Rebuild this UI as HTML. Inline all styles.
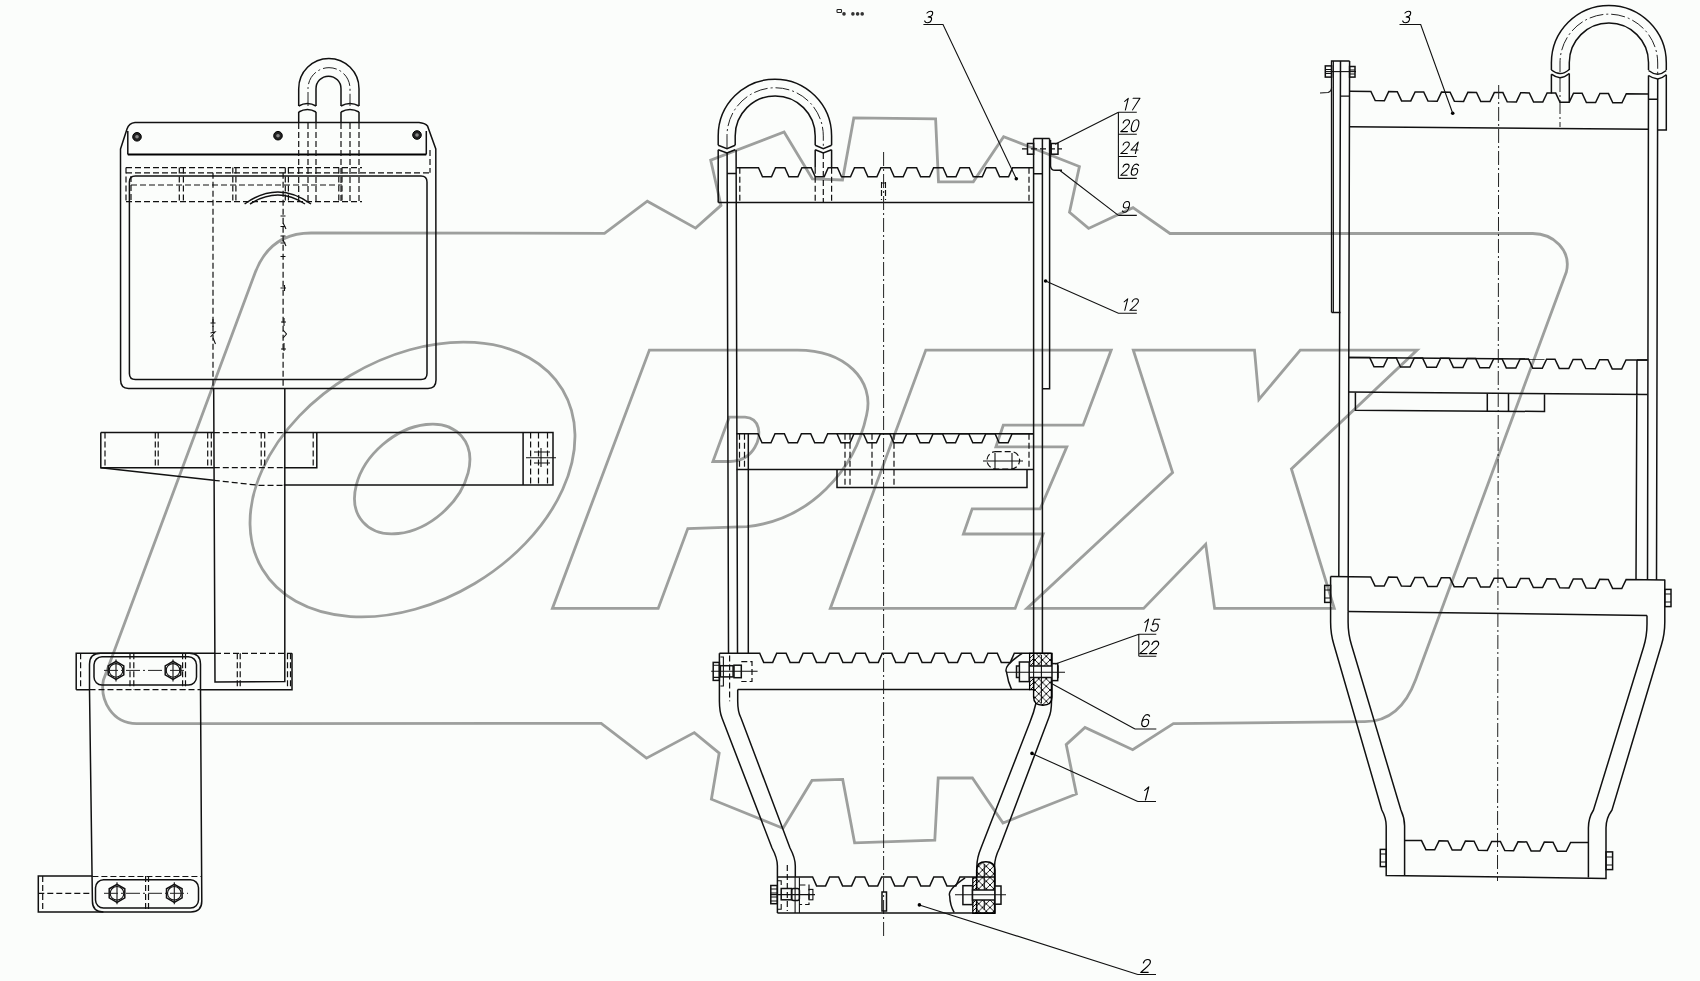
<!DOCTYPE html>
<html><head><meta charset="utf-8"><style>
html,body{margin:0;padding:0;background:#fbfdfb;width:1700px;height:981px;overflow:hidden}
svg{display:block}
.k{fill:none;stroke:#111;stroke-width:1.5}
.kf{fill:#fbfdfb;stroke:#111;stroke-width:1.5}
.t{fill:none;stroke:#111;stroke-width:1.1}
.g{fill:none;stroke:#000;stroke-width:0.95;stroke-linecap:round;stroke-linejoin:round}
.d{fill:none;stroke:#111;stroke-width:1.2;stroke-dasharray:6 3}
.c{fill:none;stroke:#222;stroke-width:1;stroke-dasharray:14 3 2 3}
.w{fill:none;stroke:#9d9f9d;stroke-width:2.8;stroke-linejoin:miter}
text{font-family:"Liberation Sans",sans-serif;font-style:italic;fill:#000}
</style></head><body>
<svg width="1700" height="981" viewBox="0 0 1700 981">
<defs><pattern id="hatch" width="7.5" height="7.5" patternUnits="userSpaceOnUse"><path d="M0,0L7.5,7.5M7.5,0L0,7.5" stroke="#000" stroke-width="0.9"/></pattern><pattern id="hatch1" width="4" height="4" patternUnits="userSpaceOnUse"><path d="M0,4L4,0" stroke="#000" stroke-width="0.9"/></pattern></defs>
<rect width="1700" height="981" fill="#fbfdfb"/>
<path class="w" d="M311,233 L604.5,233.3 L647.3,201.2 L695.6,228.1 L721,205.4 L710.7,160.2 L784.1,132 L812.4,179 L842.5,180 L853.8,117.9 L935.6,118.8 L938.5,181.9 L973.3,181.9 L1003.6,136.7 L1079.4,166.5 L1069.5,212.3 L1088.6,228.4 L1133,207.7 L1170,233.5 L1532.7,233.5 C1553,233.5 1571.5,250 1566.4,271.8 L1415.7,679.5 Q1400,722 1364.3,721.7 L1173.4,723.6 L1132.7,749.7 L1085,727.5 L1066.2,744.6 L1076.4,794 L1003,823 L972.4,778 L938.2,778 L934.8,840.1 L854.6,842.8 L842.7,779.4 L812,780.4 L783,828.2 L711.4,799.2 L719.2,753.1 L694.3,732.6 L646.5,758.2 L601.2,723.4 L136.6,723.6 C112,723.6 99.7,700 103.4,680 L255,273 Q270,233 311,233 Z"/>
<ellipse class="w" cx="412.5" cy="479.5" rx="174.9" ry="121.2" transform="rotate(-30.9 412.5 479.5)"/>
<ellipse class="w" cx="412.2" cy="479" rx="65.4" ry="45.3" transform="rotate(-41 412.2 479)"/>
<path class="w" d="M649.4,350.1 L797.2,350.1 C845,350 875,380 866.6,415 C855,470 810,520 747,526.6 L687.8,528.6 L658.2,608.4 L552.4,608.4 Z"/>
<path class="w" d="M729.2,417.2 L745,417.2 C760,418 762,435 755,447 C750,456 742,461 730,461.5 L712.9,461.5 Z"/>
<path class="w" d="M925.8,350.1 L1111.2,350.1 L1083.1,425.2 L1003.3,425.2 L995.9,446.8 L1066.8,446.8 L1040.2,508.8 L972.2,508.8 L963.4,534 L1043.2,534 L1015.1,608.4 L830.3,608.4 Z"/>
<path class="w" d="M1133.3,350.1 L1254.5,350.1 L1258.9,399.5 L1300.3,350.1 L1417.1,350.1 L1291.4,468.9 L1334.3,608.4 L1214.6,608.4 L1205.7,544.3 L1143.6,608.4 L1026.9,608.4 L1172.6,472.5 Z"/>
<path class="k" d="M120.5,149 L127,129 Q129,123 135,122.5 L419,122.5 Q425,123 427.5,126 L435.8,149 L436,380 Q436,388.4 428,388.4 L128.5,388.4 Q120.6,388.4 120.6,380 Z"/>
<path class="k" d="M127.8,154.5 L127.8,131 M426.3,154.5 L426.3,131"/>
<path d="M127.8,154.5 L426.3,154.5" stroke="#000" stroke-width="2.2"/>
<path class="k" d="M135.4,176 L421,176 Q427,176 427,182 L427,373.5 Q427,379.5 421,379.5 L135.4,379.5 Q129.4,379.5 129.4,373.5 L129.4,182 Q129.4,176 135.4,176 Z"/>
<circle cx="137" cy="136.8" r="4.3" fill="#222" stroke="#000" stroke-width="1"/>
<circle cx="137" cy="136.8" r="1.8" fill="#888"/>
<circle cx="278" cy="135.7" r="4.3" fill="#222" stroke="#000" stroke-width="1"/>
<circle cx="278" cy="135.7" r="1.8" fill="#888"/>
<circle cx="417" cy="135" r="4.3" fill="#222" stroke="#000" stroke-width="1"/>
<circle cx="417" cy="135" r="1.8" fill="#888"/>
<path class="d" d="M126,167.6 L362,167.6"/>
<path class="d" d="M126,172.8 L430,172.8"/>
<path class="d" d="M430,150 L430,172.8"/>
<path class="d" d="M131,185 L342,185"/>
<path class="d" d="M126,201.6 L362,201.6"/>
<path class="d" d="M126,167.6 L126,201.6"/>
<path class="d" d="M131,176 L131,201.6"/>
<path class="d" d="M179.3,167.6 L179.3,201.6"/>
<path class="d" d="M183.4,167.6 L183.4,201.6"/>
<path class="d" d="M232.8,167.6 L232.8,201.6"/>
<path class="d" d="M235.9,167.6 L235.9,201.6"/>
<path class="d" d="M285.3,167.6 L285.3,201.6"/>
<path class="d" d="M288.4,167.6 L288.4,201.6"/>
<path class="d" d="M338.8,167.6 L338.8,201.6"/>
<path class="d" d="M342,167.6 L342,201.6"/>
<path class="k" d="M298.7,106 L298.7,88.65 A30.15,30.15 0 0 1 359,88.65 L359,106"/>
<path class="k" d="M316,106 L316,88.65 A12.5,12.5 0 0 1 341,88.65 L341,106"/>
<path class="c" d="M308,106 L308,88.65 A21,21 0 0 1 350,88.65 L350,106"/>
<path class="k" d="M298.7,106 Q307.5,101 316,106 M341,106 Q350,101 359,106"/>
<path class="k" d="M298.7,112 Q307.5,107 316,112 M341,112 Q350,107 359,112"/>
<path class="k" d="M298.7,112 L298.7,122.5 M316,112 L316,122.5 M341,112 L341,122.5 M359,112 L359,122.5"/>
<path class="d" d="M298.7,123 L298.7,201.6"/>
<path class="d" d="M316,123 L316,201.6"/>
<path class="d" d="M341,123 L341,201.6"/>
<path class="d" d="M359,123 L359,201.6"/>
<path class="d" d="M308,123 L308,201.6"/>
<path class="d" d="M350,123 L350,201.6"/>
<path class="k" d="M244.6,204 Q278,180 311,204"/>
<path class="k" d="M250,204 Q278,186 305,204"/>
<path class="d" d="M213,172.8 L213,388.4"/>
<path class="d" d="M283.1,172.8 L283.1,388.4"/>
<path class="t" d="M280.5,216 L285.5,216 M280.5,226.5 L285.5,226.5 M283.1,223 L286,229 M280.5,236 L285.5,236 M283.1,240 L286,246 M280.5,243 L285.5,243 M280.5,256.5 L285.5,256.5 M280.5,288 L286,288 M284.5,285 L284.5,291 M281,322 L286,322 M284,318 L284,326 M283.1,330 L286.5,334 L283.1,338 M281,349 L286,349 M284,343 L284,351"/>
<path class="t" d="M210.5,323 L215.5,323 M213,319 L213,327 M210.5,337 L215,332 L210.5,333 M213,338 L215.5,344"/>
<path class="k" d="M213.7,388.4 L215,682 L284.8,681.4 L284.8,388.4"/>
<path class="k" d="M100.8,432.6 L213.8,432.6 M283.8,432.6 L553,432.6 L553,485 L283.8,485"/>
<path class="d" d="M213.8,432.6 L283.8,432.6"/>
<path class="k" d="M100.8,432.6 L100.8,467.7 L213.8,467.7 M283.8,467.7 L316.8,467.7 L316.8,432.6"/>
<path class="d" d="M213.8,467.7 L283.8,467.7"/>
<path class="k" d="M100.8,467.7 L213.8,480.3"/>
<path class="d" d="M213.8,480.3 L258.6,485.3 L283.8,485.3"/>
<path class="k" d="M523.1,432.6 L523.1,485"/>
<path class="d" d="M105,432.6 L105,467.7"/>
<path class="d" d="M155.3,432.6 L155.3,467.7"/>
<path class="d" d="M158.2,432.6 L158.2,467.7"/>
<path class="d" d="M207.7,432.6 L207.7,467.7"/>
<path class="d" d="M211.3,432.6 L211.3,467.7"/>
<path class="d" d="M261.2,432.6 L261.2,467.7"/>
<path class="d" d="M264.7,432.6 L264.7,467.7"/>
<path class="d" d="M313.2,432.6 L313.2,467.7"/>
<path class="d" d="M530.6,432.6 L530.6,485"/>
<path class="d" d="M538.5,432.6 L538.5,485"/>
<path class="d" d="M547.5,432.6 L547.5,485"/>
<path class="t" d="M526,457.7 L556,457.7 M541,448 L541,467 M534,452 L550,452 M534,463 L550,463"/>
<path class="k" d="M76.2,689.7 L76.2,653.3 L215,653.3 M76.2,689.7 L89.5,689.7 M200.5,689.7 L292,689.7 L292,653.3"/>
<path class="d" d="M215,653.3 L292,653.3"/>
<path class="d" d="M89.5,689.7 L200.5,689.7"/>
<rect class="k" x="94" y="656.8" width="102.5" height="28.2" rx="8"/>
<path class="d" d="M80.6,653.3 L80.6,689.7"/>
<path class="d" d="M130,653.3 L130,689.7"/>
<path class="d" d="M133.8,653.3 L133.8,689.7"/>
<path class="d" d="M182.6,653.3 L182.6,689.7"/>
<path class="d" d="M185.5,653.3 L185.5,689.7"/>
<path class="d" d="M237.3,653.3 L237.3,689.7"/>
<path class="d" d="M240.2,653.3 L240.2,689.7"/>
<path class="d" d="M287.5,653.3 L287.5,689.7"/>
<path class="d" d="M290.5,653.3 L290.5,689.7"/>
<polygon class="k" points="123.8,674.9 116.0,679.4 108.2,674.9 108.2,665.9 116.0,661.4 123.8,665.9"/>
<circle class="t" cx="116" cy="670.4" r="6.8"/>
<path class="t" d="M116,659.4L116,681.4"/>
<polygon class="k" points="180.8,674.9 173.0,679.4 165.2,674.9 165.2,665.9 173.0,661.4 180.8,665.9"/>
<circle class="t" cx="173" cy="670.4" r="6.8"/>
<path class="t" d="M173,659.4L173,681.4"/>
<path class="c" d="M104,670.4 L185,670.4"/>
<path class="k" d="M89.5,689.7 L89.5,664.3 Q89.5,653.3 100.5,653.3 L189.5,653.3 Q200.5,653.3 200.5,664.3 L200.5,689.7"/>
<path class="k" d="M89.5,689.7 L92.4,901 Q92.4,912 103.4,912 L190.8,912 Q201.8,912 201.8,901 L200.5,689.7"/>
<path class="k" d="M92.4,876 L38.3,876 L38.3,912 L103.4,912"/>
<path class="d" d="M92.4,876.5 L201.8,876.5"/>
<rect class="k" x="95.5" y="879.8" width="103" height="28.2" rx="8"/>
<path class="d" d="M38.3,893.3 L92.4,893.3"/>
<path class="d" d="M42.7,876 L42.7,912"/>
<path class="d" d="M145.6,876 L145.6,912"/>
<path class="d" d="M148.5,876 L148.5,912"/>
<polygon class="k" points="124.8,897.8 117.0,902.3 109.2,897.8 109.2,888.8 117.0,884.3 124.8,888.8"/>
<circle class="t" cx="117" cy="893.3" r="6.8"/>
<path class="t" d="M117,882.3L117,904.3"/>
<polygon class="k" points="182.1,897.8 174.3,902.3 166.5,897.8 166.5,888.8 174.3,884.3 182.1,888.8"/>
<circle class="t" cx="174.3" cy="893.3" r="6.8"/>
<path class="t" d="M174.3,882.3L174.3,904.3"/>
<path class="c" d="M104,893.3 L188,893.3"/>
<path class="k" d="M718.2,145.2 L718.2,135.9 A56.7,56.7 0 0 1 831.6,135.9 L831.6,145.2"/>
<path class="k" d="M735.2,145.2 L735.2,135.9 A40,40 0 0 1 815.2,135.9 L815.2,145.2"/>
<path class="c" d="M727,148 L727,135.9 A48,48 0 0 1 823.3,135.9 L823.3,148"/>
<path class="k" d="M718.2,145.2 L727,148.6 L735.2,145.2 M815.2,145.2 L823.3,148.6 L831.6,145.2"/>
<path class="k" d="M718.2,149.8 L727,153 L735.2,149.8 M815.2,149.8 L823.3,153 L831.6,149.8"/>
<path class="k" d="M718.2,149.8 L718.2,202.6 M815.2,149.8 L815.2,167.8 M831.6,149.8 L831.6,167.8"/>
<path class="d" d="M815.2,167.8 L815.2,202.6"/>
<path class="d" d="M831.6,167.8 L831.6,202.6"/>
<path class="d" d="M823.3,153 L823.3,202.6"/>
<path class="k" d="M727.1,153 L728.5,653.2 M736.1,150 L737.5,653.2 M727.1,173.4 L736.1,173.4"/>
<path class="k" d="M748.3,433.7 L748.3,653.2"/>
<path class="k" d="M1033.6,138.6 L1033.6,653.2 M1042.4,138.6 L1042.4,653.2 M1049.6,138.6 L1049.6,388.7 L1042.4,388.7 M1033.6,138.6 L1049.6,138.6 M1033.6,173.8 L1042.4,173.8"/>
<path class="k" d="M736.1,167.8 L758.5,167.8 L762.5,176.8 L771.5,176.8 L775.5,167.8 L784.9,167.8 L788.9,176.8 L797.9,176.8 L801.9,167.8 L811.2,167.8 L815.2,176.8 L824.2,176.8 L828.2,167.8 L837.5,167.8 L841.5,176.8 L850.5,176.8 L854.5,167.8 L863.9,167.8 L867.9,176.8 L876.9,176.8 L880.9,167.8 L890.2,167.8 L894.2,176.8 L903.2,176.8 L907.2,167.8 L916.6,167.8 L920.6,176.8 L929.6,176.8 L933.6,167.8 L943.0,167.8 L947.0,176.8 L956.0,176.8 L960.0,167.8 L969.3,167.8 L973.3,176.8 L982.3,176.8 L986.3,167.8 L995.6,167.8 L999.6,176.8 L1008.6,176.8 L1012.6,167.8 L1033.6,167.8"/>
<path class="k" d="M718.2,202.6 L1033.6,202.6"/>
<path class="d" d="M739.8,167.8 L739.8,202.6"/>
<path class="d" d="M1029,167.8 L1029,202.6"/>
<path class="c" d="M883.6,152 L883.6,938"/>
<path class="t" d="M881.5,182 L881.5,188 M885.5,182 L885.5,188 M881.5,183 L885.5,183"/>
<path class="d" d="M881.5,190 L881.5,200"/>
<path class="d" d="M885.5,190 L885.5,200"/>
<rect class="k" x="1027.5" y="143.5" width="6.1" height="10.7" rx="0"/>
<rect class="k" x="1051.2" y="143.5" width="6.8" height="10.7" rx="0"/>
<path class="d" d="M1022,148.9 L1062,148.9"/>
<path class="k" d="M1050.5,140 L1050.5,166 Q1051,170.3 1055,170.3 L1062,170.3"/>
<path class="k" d="M736.5,433.7 L758.0,433.7 L762.0,442.8 L771.0,442.8 L775.0,433.7 L784.4,433.7 L788.4,442.8 L797.4,442.8 L801.4,433.7 L810.7,433.7 L814.7,442.8 L823.7,442.8 L827.7,433.7 L837.0,433.7 L841.0,442.8 L850.0,442.8 L854.0,433.7 L863.4,433.7 L867.4,442.8 L876.4,442.8 L880.4,433.7 L889.8,433.7 L893.8,442.8 L902.8,442.8 L906.8,433.7 L916.1,433.7 L920.1,442.8 L929.1,442.8 L933.1,433.7 L942.5,433.7 L946.5,442.8 L955.5,442.8 L959.5,433.7 L968.8,433.7 L972.8,442.8 L981.8,442.8 L985.8,433.7 L995.1,433.7 L999.1,442.8 L1008.1,442.8 L1012.1,433.7 L1033.3,433.7"/>
<path class="k" d="M836.5,433.7 L1033.3,433.7"/>
<path class="k" d="M736.5,469.6 L1033.3,469.6 M837,469.6 L837,487.5 L1027,487.5 L1027,469.6"/>
<path class="d" d="M739.5,433.7 L739.5,469.6"/>
<path class="d" d="M744.5,433.7 L744.5,469.6"/>
<path class="d" d="M1029,433.7 L1029,469.6"/>
<path class="d" d="M845,433.7 L845,487.5"/>
<path class="d" d="M850,433.7 L850,487.5"/>
<path class="d" d="M872,433.7 L872,487.5"/>
<path class="d" d="M894,433.7 L894,487.5"/>
<rect class="d" x="987" y="451.6" width="32.6" height="17.4" rx="8.7"/>
<path class="t" d="M983,461 L1023,461 M995,453 L995,469 M1012,453 L1012,469"/>
<path class="k" d="M719.4,653.2 L759.7,653.2 L763.7,662.4 L772.7,662.4 L776.7,653.2 L786.1,653.2 L790.1,662.4 L799.1,662.4 L803.1,653.2 L812.5,653.2 L816.5,662.4 L825.5,662.4 L829.5,653.2 L838.9,653.2 L842.9,662.4 L851.9,662.4 L855.9,653.2 L865.3,653.2 L869.3,662.4 L878.3,662.4 L882.3,653.2 L891.7,653.2 L895.7,662.4 L904.7,662.4 L908.7,653.2 L918.1,653.2 L922.1,662.4 L931.1,662.4 L935.1,653.2 L944.5,653.2 L948.5,662.4 L957.5,662.4 L961.5,653.2 L970.9,653.2 L974.9,662.4 L983.9,662.4 L987.9,653.2 L997.3,653.2 L1001.3,662.4 L1010.3,662.4 L1014.3,653.2 L1051.5,653.2"/>
<path class="k" d="M737.7,689.6 L1030.4,689.6"/>
<path class="k" d="M719.4,653.2 L719.4,701 Q719.5,712 722,718 L772,848 Q777.4,858 777.4,866 L777.4,913.1"/>
<path class="k" d="M737.7,689.6 L737.7,701 Q737.7,712 741,718 L790,848 Q795.3,858 795.3,866 L795.3,877"/>
<path class="k" d="M1051.5,653.2 L1051.5,701 Q1051.5,712 1048.7,718 L999.5,848 Q994.6,858 994.6,866 L994.6,913.1"/>
<path class="k" d="M1036,703 Q1034,712 1030,722 L981,848 Q976.9,858 976.9,866 L976.9,877"/>
<rect class="k" x="713.2" y="662.4" width="6.2" height="18.0" rx="0"/>
<path class="t" d="M713.2,665.2 L719.4,665.2 M713.2,677.4 L719.4,677.4"/>
<rect class="k" x="720.4" y="665.7" width="12.7" height="11.2" rx="0"/>
<rect class="k" x="734.0" y="665.2" width="7.3" height="12.5" rx="0"/>
<path class="d" d="M741.3,661.6 L752,661.6 L752,681.5 L741.3,681.5"/>
<path class="t" d="M720.4,657 L723.4,657 L723.4,686 L720.4,686"/>
<path class="t" d="M711.2,671.3 L757.6,671.3"/>
<path class="d" d="M729.6,655.5 L729.6,701.3"/>
<path d="M1033.6,653.4 L1052,653.4 L1052,697 Q1052,705.2 1042.8,705.2 Q1033.6,705.2 1033.6,697 Z" fill="url(#hatch)" stroke="#000" stroke-width="1.4"/>
<path d="M1029.6,653.4 L1033.6,653.4 L1033.6,689.7 L1029.6,689.7 Z" fill="url(#hatch1)" stroke="#000" stroke-width="1.3"/>
<path class="t" d="M1041.4,655 L1041.4,703"/>
<rect class="kf" x="1016.5" y="666.0" width="41.5" height="11.5" rx="0"/>
<rect class="kf" x="1019.4" y="662.0" width="9.8" height="19.6" rx="0"/>
<rect class="kf" x="1052.0" y="663.6" width="5.7" height="17.0" rx="0"/>
<path class="t" d="M1033.6,666 L1033.6,677.5 M1041.4,666 L1041.4,677.5"/>
<path class="t" d="M1006,672.2 L1065,672.2"/>
<path class="k" d="M1022.2,653.4 Q1003,666 1006.5,672.2 Q1008,682 1011.6,689.6"/>
<path class="k" d="M777.4,877.0 L812.6,877.0 L816.6,885.9 L825.6,885.9 L829.6,877.0 L838.6,877.0 L842.6,885.9 L851.6,885.9 L855.6,877.0 L864.7,877.0 L868.7,885.9 L877.7,885.9 L881.7,877.0 L890.8,877.0 L894.8,885.9 L903.8,885.9 L907.8,877.0 L916.8,877.0 L920.8,885.9 L929.8,885.9 L933.8,877.0 L942.9,877.0 L946.9,885.9 L955.9,885.9 L959.9,877.0 L994.6,877.0"/>
<path class="k" d="M777.4,913.1 L994.6,913.1"/>
<path d="M976.6,913.3 L976.6,870 Q976.6,861.8 985.8,861.8 Q995,861.8 995,870 L995,913.3 Z" fill="url(#hatch)" stroke="#000" stroke-width="1.4"/>
<path d="M972.8,877.8 L976.6,877.8 L976.6,913.3 L972.8,913.3 Z" fill="url(#hatch1)" stroke="#000" stroke-width="1.3"/>
<path class="t" d="M984.3,864 L984.3,910"/>
<path class="k" d="M965.1,877.8 Q947,890 949.7,896.2 Q950,905 954.1,912.4"/>
<rect class="k" x="770.8" y="885.5" width="6.5" height="18.2" rx="0"/>
<path class="t" d="M770.8,889 L777.3,889 M770.8,893 L777.3,893 M770.8,897 L777.3,897 M770.8,901 L777.3,901"/>
<path class="t" d="M777.5,880.7 L781.2,880.7 L781.2,885 M781.2,904 L781.2,909.3 L777.5,909.3"/>
<rect class="k" x="781.2" y="888.5" width="10.4" height="11.3" rx="0"/>
<rect class="k" x="791.6" y="888.5" width="7.8" height="12" rx="2"/>
<path class="d" d="M799.4,885 L809,885 L809,904.5 L799.4,904.5"/>
<rect class="t" x="809.0" y="889.4" width="3.9" height="10.4" rx="0"/>
<path class="t" d="M795.1,877 L795.1,913.1 M799.4,877.5 L799.4,913.1"/>
<path class="t" d="M770,894.6 L815,894.6"/>
<path class="d" d="M787.3,865 L787.3,911"/>
<rect class="kf" x="962.9" y="885.7" width="9.6" height="18.9" rx="0"/>
<rect class="kf" x="972.5" y="890.0" width="22.5" height="10.0" rx="0"/>
<rect class="kf" x="995.0" y="886.0" width="6.0" height="18.2" rx="0"/>
<path class="t" d="M955,894.7 L1006,894.7"/>
<rect class="k" x="882" y="892" width="4.5" height="19"/>
<path class="g" d="M0.5,1.6 C1,0.6 2,0 3.1,0 C4.6,0 5.5,1 5.5,2.5 C5.5,4 4.3,4.9 2.4,4.9 C4.5,4.9 5.8,5.9 5.8,7.4 C5.8,9 4.5,10 3,10 C1.7,10 0.7,9.4 0.2,8.4" transform="translate(924.0 22.8) skewX(-14) scale(1.160) translate(0 -10)"/>
<path class="t" d="M923.4,24.5 L943,24.5 L1016.3,178.7"/>
<circle cx="1016.3" cy="178.7" r="1.8" fill="#000"/>
<path class="g" d="M1.8,2.6 L4.2,0 L4.2,10" transform="translate(1120.5 109.9) skewX(-14) scale(1.160) translate(0 -10)"/>
<path class="g" d="M0.1,0 L6,0 L2.1,10" transform="translate(1130.1 109.9) skewX(-14) scale(1.160) translate(0 -10)"/>
<path class="g" d="M0.4,2.6 C0.5,1 1.6,0 3.1,0 C4.7,0 5.7,1 5.7,2.6 C5.7,4.6 3.8,5.8 0.2,10 L5.9,10" transform="translate(1120.5 131.6) skewX(-14) scale(1.180) translate(0 -10)"/>
<path class="g" d="M3,0 C1,0 0.1,2.2 0.1,5 C0.1,7.8 1,10 3,10 C5,10 5.9,7.8 5.9,5 C5.9,2.2 5,0 3,0 Z" transform="translate(1130.1 131.6) skewX(-14) scale(1.180) translate(0 -10)"/>
<path class="g" d="M0.4,2.6 C0.5,1 1.6,0 3.1,0 C4.7,0 5.7,1 5.7,2.6 C5.7,4.6 3.8,5.8 0.2,10 L5.9,10" transform="translate(1120.5 153.5) skewX(-14) scale(1.150) translate(0 -10)"/>
<path class="g" d="M4.6,10 L4.6,0 L0,7 L6.1,7" transform="translate(1130.1 153.5) skewX(-14) scale(1.150) translate(0 -10)"/>
<path class="g" d="M0.4,2.6 C0.5,1 1.6,0 3.1,0 C4.7,0 5.7,1 5.7,2.6 C5.7,4.6 3.8,5.8 0.2,10 L5.9,10" transform="translate(1120.5 175.3) skewX(-14) scale(1.120) translate(0 -10)"/>
<path class="g" d="M5.4,1.3 C4.9,0.4 4.1,0 3.1,0 C1.1,0 0.2,2.2 0.2,5.4 C0.2,8.5 1.3,10 3.1,10 C4.8,10 5.9,8.7 5.9,6.9 C5.9,5 4.7,3.9 3.1,3.9 C1.7,3.9 0.6,4.8 0.2,6" transform="translate(1130.1 175.3) skewX(-14) scale(1.120) translate(0 -10)"/>
<path class="t" d="M1118.4,112.2 L1136.8,112.2 M1118.4,134.3 L1136.8,134.3 M1118.4,156.5 L1136.8,156.5 M1118.4,178.4 L1136.8,178.4 M1118.4,112.2 L1118.4,178.4 M1118.4,112.2 L1055,144.3"/>
<path class="g" d="M0.6,8.7 C1.1,9.6 1.9,10 2.9,10 C4.9,10 5.8,7.8 5.8,4.6 C5.8,1.5 4.7,0 2.9,0 C1.2,0 0.1,1.3 0.1,3.1 C0.1,5 1.3,6.1 2.9,6.1 C4.3,6.1 5.4,5.2 5.8,4" transform="translate(1121.5 212.3) skewX(-14) scale(1.080) translate(0 -10)"/>
<path class="t" d="M1118.4,215.4 L1136.8,215.4 M1118.4,215.4 L1059.6,170.3"/>
<path class="g" d="M1.8,2.6 L4.2,0 L4.2,10" transform="translate(1120.0 310.3) skewX(-14) scale(1.150) translate(0 -10)"/>
<path class="g" d="M0.4,2.6 C0.5,1 1.6,0 3.1,0 C4.7,0 5.7,1 5.7,2.6 C5.7,4.6 3.8,5.8 0.2,10 L5.9,10" transform="translate(1129.6 310.3) skewX(-14) scale(1.150) translate(0 -10)"/>
<path class="t" d="M1136.8,313.3 L1118.4,313.3 L1045.6,281"/>
<circle cx="1045.6" cy="281" r="1.8" fill="#000"/>
<path class="g" d="M1.8,2.6 L4.2,0 L4.2,10" transform="translate(1140.5 631.2) skewX(-14) scale(1.200) translate(0 -10)"/>
<path class="g" d="M5.6,0 L1.1,0 L0.6,4.6 C1.3,4.1 2.2,3.8 3.1,3.8 C4.8,3.8 5.9,5 5.9,6.9 C5.9,8.8 4.6,10 3,10 C1.7,10 0.7,9.4 0.2,8.4" transform="translate(1150.1 631.2) skewX(-14) scale(1.200) translate(0 -10)"/>
<path class="g" d="M0.4,2.6 C0.5,1 1.6,0 3.1,0 C4.7,0 5.7,1 5.7,2.6 C5.7,4.6 3.8,5.8 0.2,10 L5.9,10" transform="translate(1139.5 653.7) skewX(-14) scale(1.250) translate(0 -10)"/>
<path class="g" d="M0.4,2.6 C0.5,1 1.6,0 3.1,0 C4.7,0 5.7,1 5.7,2.6 C5.7,4.6 3.8,5.8 0.2,10 L5.9,10" transform="translate(1149.1 653.7) skewX(-14) scale(1.250) translate(0 -10)"/>
<path class="t" d="M1138.8,634.2 L1156.3,634.2 M1138.8,656.3 L1156.3,656.3 M1138.8,634.2 L1138.8,656.3 M1138.8,634.2 L1055.3,664"/>
<path class="g" d="M5.4,1.3 C4.9,0.4 4.1,0 3.1,0 C1.1,0 0.2,2.2 0.2,5.4 C0.2,8.5 1.3,10 3.1,10 C4.8,10 5.9,8.7 5.9,6.9 C5.9,5 4.7,3.9 3.1,3.9 C1.7,3.9 0.6,4.8 0.2,6" transform="translate(1140.5 726.6) skewX(-14) scale(1.200) translate(0 -10)"/>
<path class="t" d="M1135,729 L1156.3,729 M1135,729 L1051.5,683.5"/>
<path class="g" d="M1.8,2.6 L4.2,0 L4.2,10" transform="translate(1140.0 800.0) skewX(-14) scale(1.300) translate(0 -10)"/>
<path class="t" d="M1137.8,801.5 L1156,801.5 M1137.8,801.5 L1032,753.4"/>
<circle cx="1032" cy="753.4" r="1.8" fill="#000"/>
<path class="g" d="M0.4,2.6 C0.5,1 1.6,0 3.1,0 C4.7,0 5.7,1 5.7,2.6 C5.7,4.6 3.8,5.8 0.2,10 L5.9,10" transform="translate(1140.5 972.4) skewX(-14) scale(1.290) translate(0 -10)"/>
<path class="t" d="M1137.8,974.5 L1156,974.5 M1137.8,974.5 L919.4,904.9"/>
<circle cx="919.4" cy="904.9" r="1.8" fill="#000"/>
<rect x="837" y="9.5" width="4.5" height="3" rx="0.8" fill="none" stroke="#222" stroke-width="1.1"/>
<circle cx="844" cy="13.9" r="1.8" fill="#333"/>
<circle cx="852.9" cy="13.9" r="1.8" fill="#333"/>
<circle cx="857.6" cy="13.9" r="1.8" fill="#333"/>
<circle cx="862.2" cy="13.9" r="1.8" fill="#333"/>
<path class="k" d="M1331.6,312.4 L1331.6,61 L1349.6,61 M1331.6,312.4 L1340.5,312.4"/>
<path class="k" d="M1340.5,61 L1338.8,577 M1349.6,61 L1348.1,611.4"/>
<rect class="k" x="1325.3" y="65.9" width="6.3" height="11.2" rx="0"/>
<rect class="k" x="1349.6" y="66.5" width="5.4" height="10.6" rx="0"/>
<path class="t" d="M1325.3,69.5 L1331.6,69.5 M1325.3,73.5 L1331.6,73.5 M1349.6,70 L1355,70 M1349.6,74 L1355,74"/>
<path class="t" d="M1325,71.6 L1356,71.6"/>
<path class="t" d="M1320,93 L1328,92.5 Q1331.6,91.5 1331.6,87 M1333.4,61 L1333.4,312.4 M1340.5,96.1 L1349.4,96.1"/>
<path class="k" d="M1551.4,70 L1551.4,62.9 A57.45,57.45 0 0 1 1666.3,62.9 L1666.3,70"/>
<path class="k" d="M1569.3,70 L1569.3,62.6 A39.6,39.6 0 0 1 1648.5,62.6 L1648.5,70"/>
<path class="c" d="M1560,72 L1560,63 A48.85,48.85 0 0 1 1657.7,63 L1657.7,74"/>
<path class="k" d="M1551.4,70 Q1556,73.5 1560,73.6 Q1564.5,73.5 1569.3,69.5 M1648.5,70.5 Q1653,74 1657.7,74.3 Q1662,74 1666.3,70.5"/>
<path class="k" d="M1551.4,74.2 Q1556,77.5 1560,77.8 Q1564.5,77.5 1569.3,73.5 M1648.5,75.5 Q1653,78.5 1657.7,79 Q1662,78.5 1666.3,74.8"/>
<path class="k" d="M1551.4,74.2 L1551.4,93.5 M1569.3,73.5 L1569.3,102.2"/>
<path class="c" d="M1560,78 L1560,127"/>
<path class="k" d="M1648.5,75.5 L1647.5,580 M1657.7,79 L1656.5,580 M1666.3,74.8 L1666.3,129.9 L1657.7,129.9 M1648.5,99.2 L1657.7,99.2"/>
<path class="k" d="M1349.6,91.3 L1370.9,91.5 L1375.2,100.6 L1384.4,100.7 L1388.7,91.6 L1397.3,91.7 L1401.6,100.9 L1410.8,100.9 L1415.1,91.9 L1423.7,92.0 L1428.0,101.1 L1437.2,101.2 L1441.5,92.1 L1450.1,92.2 L1454.4,101.3 L1463.6,101.4 L1467.9,92.3 L1476.5,92.4 L1480.8,101.6 L1490.0,101.6 L1494.3,92.6 L1502.9,92.6 L1507.2,101.8 L1516.4,101.9 L1520.7,92.8 L1529.3,92.9 L1533.6,102.0 L1542.8,102.1 L1547.1,93.0 L1555.7,93.1 L1560.0,102.3 L1569.2,102.3 L1573.5,93.3 L1582.1,93.3 L1586.4,102.5 L1595.6,102.6 L1599.9,93.5 L1608.5,93.6 L1612.8,102.7 L1622.0,102.8 L1626.3,93.7 L1648.5,93.9"/>
<path class="k" d="M1349.6,126.7 L1648.5,129.3"/>
<path class="c" d="M1498.7,85 L1497.5,881"/>
<circle cx="1452.7" cy="113.2" r="1.8" fill="#000"/>
<path class="g" d="M0.5,1.6 C1,0.6 2,0 3.1,0 C4.6,0 5.5,1 5.5,2.5 C5.5,4 4.3,4.9 2.4,4.9 C4.5,4.9 5.8,5.9 5.8,7.4 C5.8,9 4.5,10 3,10 C1.7,10 0.7,9.4 0.2,8.4" transform="translate(1402.0 22.8) skewX(-14) scale(1.160) translate(0 -10)"/>
<path class="t" d="M1399.5,24.5 L1420.7,24.5 L1452.7,113.2"/>
<path class="k" d="M1349.0,357.4 L1369.7,357.6 L1374.0,366.7 L1383.5,366.8 L1387.8,357.7 L1396.2,357.8 L1400.5,367.0 L1410.0,367.0 L1414.3,358.0 L1422.6,358.1 L1426.9,367.2 L1436.4,367.3 L1440.7,358.2 L1449.1,358.3 L1453.4,367.4 L1462.9,367.5 L1467.2,358.5 L1475.6,358.5 L1479.9,367.7 L1489.4,367.8 L1493.7,358.7 L1502.0,358.8 L1506.3,367.9 L1515.8,368.0 L1520.1,358.9 L1528.5,359.0 L1532.8,368.2 L1542.3,368.2 L1546.6,359.2 L1555.0,359.3 L1559.3,368.4 L1568.8,368.5 L1573.1,359.4 L1581.5,359.5 L1585.8,368.6 L1595.3,368.7 L1599.6,359.7 L1607.9,359.7 L1612.2,368.9 L1621.7,369.0 L1626.0,359.9 L1647.5,360.1"/>
<path class="k" d="M1349,357.4 L1544.5,359.1"/>
<path class="k" d="M1349,391.9 L1647.5,394.6 M1637,360 L1636,580 M1637,360 L1647.5,360"/>
<path class="k" d="M1355.4,392.5 L1355.4,410.3 L1544.5,411.5 L1544.5,394.2 M1487.3,393.4 L1487.3,411 M1508.5,393.6 L1508.5,411.2"/>
<path class="k" d="M1330.6,576.5 L1370.7,576.9 L1375.0,585.9 L1384.2,586.0 L1388.5,577.1 L1397.1,577.2 L1401.4,586.1 L1410.6,586.2 L1414.9,577.4 L1423.5,577.5 L1427.8,586.4 L1437.0,586.5 L1441.3,577.7 L1449.9,577.8 L1454.2,586.7 L1463.4,586.8 L1467.7,577.9 L1476.3,578.0 L1480.6,587.0 L1489.8,587.1 L1494.1,578.2 L1502.7,578.3 L1507.0,587.3 L1516.2,587.3 L1520.5,578.5 L1529.1,578.6 L1533.4,587.5 L1542.6,587.6 L1546.9,578.8 L1555.5,578.9 L1559.8,587.8 L1569.0,587.9 L1573.3,579.0 L1581.9,579.1 L1586.2,588.1 L1595.4,588.2 L1599.7,579.3 L1608.3,579.4 L1612.6,588.4 L1621.8,588.5 L1626.1,579.6 L1664.8,580.0"/>
<path class="k" d="M1330.6,576.5 L1330.6,600 M1664.8,579.5 L1664.8,600"/>
<path class="k" d="M1348.1,611.4 L1647,615.5"/>
<rect class="k" x="1324.7" y="585.4" width="5.9" height="17.0" rx="0"/>
<rect class="k" x="1664.8" y="589.4" width="6.2" height="17.2" rx="0"/>
<path class="t" d="M1324.7,590 L1330.6,590 M1324.7,598 L1330.6,598 M1664.8,594 L1671,594 M1664.8,602 L1671,602"/>
<path class="k" d="M1330.6,600 L1330.6,622 Q1330.6,634 1334,645 L1381.8,810 Q1386.2,818 1386.2,826 L1386.2,875.4 L1606,878.4 L1606,828 Q1606,818 1612,810 L1661.4,645 Q1664.8,634 1664.8,622 L1664.8,600"/>
<path class="k" d="M1348.1,611.4 L1348.1,622 Q1348.1,634 1351.5,645 L1400.9,810 Q1404.6,818 1404.6,826 L1404.6,875.6 M1647,615.5 L1647,624 Q1647,636 1643.6,647 L1593.5,810 Q1588.4,818 1588.4,828 L1588.4,877.6"/>
<path class="k" d="M1404.6,840.4 L1421.5,840.6 L1425.9,849.7 L1434.7,849.8 L1439.1,840.8 L1447.8,840.9 L1452.2,850.0 L1461.0,850.1 L1465.4,841.1 L1474.1,841.2 L1478.5,850.3 L1487.3,850.4 L1491.7,841.4 L1500.4,841.5 L1504.8,850.6 L1513.6,850.7 L1518.0,841.8 L1526.7,841.9 L1531.1,850.9 L1539.9,851.0 L1544.3,842.1 L1553.0,842.2 L1557.4,851.2 L1566.2,851.3 L1570.6,842.4 L1588.4,842.6"/>
<rect class="k" x="1380.3" y="849.4" width="5.9" height="17.2" rx="0"/>
<rect class="k" x="1606.0" y="851.9" width="6.6" height="17.7" rx="0"/>
<path class="t" d="M1380.3,854 L1386.2,854 M1380.3,862 L1386.2,862 M1606,857 L1612.6,857 M1606,865 L1612.6,865"/>
</svg></body></html>
